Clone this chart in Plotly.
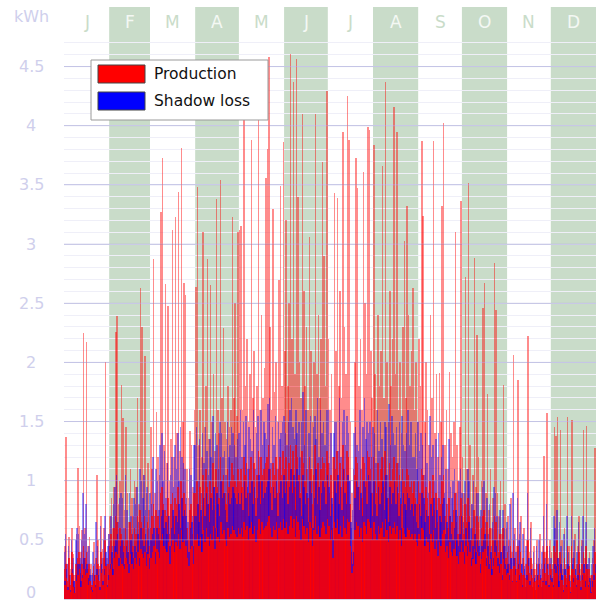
import numpy as np
import plotly.graph_objects as go

# Month letters across the top and the number of days in each month
MONTHS = ["J", "F", "M", "A", "M", "J", "J", "A", "S", "O", "N", "D"]
DAYS_IN_MONTH = [31, 28, 31, 30, 31, 30, 31, 31, 30, 31, 30, 31]
Y_TICKS = [0, 0.5, 1, 1.5, 2, 2.5, 3, 3.5, 4, 4.5]

# Daily production maxima (kWh), one row per month
PROD_PEAK = [
    0.45, 1.37, 0.3, 0.52, 0.25, 0.6, 0.38, 0.2, 0.55, 1.11, 0.62, 0.4, 0.58, 2.25, 0.6, 2.17, 0.45, 0.52, 0.3, 0.22, 0.48, 0.35, 1.05, 0.5, 0.28, 0.7, 0.42, 0.6, 2.0, 0.35, 0.55,
    0.7, 0.85, 0.6, 0.95, 2.26, 2.39, 0.8, 1.0, 1.81, 1.53, 0.75, 1.45, 0.9, 0.65, 1.1, 0.85, 0.7, 1.0, 0.95, 1.7, 0.8, 2.63, 2.3, 1.05, 2.05, 0.9, 1.15, 0.75,
    1.45, 1.1, 2.87, 0.9, 1.58, 1.2, 1.05, 3.27, 3.73, 1.3, 2.66, 1.15, 2.48, 1.0, 1.35, 3.12, 1.2, 3.23, 1.4, 3.44, 1.25, 3.81, 1.5, 2.67, 2.57, 1.1, 0.85, 1.42, 1.3, 0.95, 1.6,
    2.64, 3.48, 1.3, 1.6, 1.2, 3.1, 1.45, 1.8, 2.87, 1.35, 2.65, 1.5, 1.9, 1.25, 3.38, 1.6, 1.4, 3.54, 1.7, 2.29, 1.5, 1.35, 1.8, 1.45, 1.6, 3.23, 1.7, 2.5, 1.55, 3.1,
    3.12, 3.15, 1.6, 4.08, 1.8, 2.2, 1.5, 1.9, 3.88, 1.7, 2.1, 1.45, 1.8, 4.2, 1.6, 2.4, 1.7, 1.95, 3.56, 3.8, 4.58, 2.3, 1.6, 3.3, 1.75, 2.0, 1.5, 2.7, 3.49, 1.8, 3.86,
    2.1, 3.2, 1.8, 2.5, 4.61, 2.2, 4.37, 1.9, 4.56, 3.4, 2.0, 1.7, 4.1, 2.6, 1.8, 2.3, 1.6, 3.06, 2.1, 1.5, 2.0, 4.1, 1.9, 2.4, 1.7, 2.2, 3.69, 2.9, 1.8, 4.29,
    2.2, 1.6, 1.9, 1.2, 3.43, 2.1, 3.39, 1.8, 2.6, 1.7, 3.95, 2.3, 1.9, 4.25, 3.88, 1.5, 0.9, 1.1, 2.0, 3.73, 3.47, 1.8, 2.2, 1.6, 3.61, 2.5, 1.9, 3.99, 3.96, 2.1, 1.7,
    3.84, 1.9, 1.6, 2.4, 1.8, 2.1, 3.66, 1.7, 4.37, 2.0, 1.5, 2.6, 1.8, 2.2, 4.16, 1.9, 3.95, 1.6, 2.0, 1.4, 2.3, 3.03, 1.7, 3.32, 2.4, 1.8, 2.1, 2.63, 1.6, 2.0, 1.5,
    2.2, 1.8, 3.87, 3.24, 1.5, 2.0, 1.6, 1.3, 2.4, 1.7, 3.87, 1.4, 1.9, 1.2, 1.91, 1.5, 3.32, 4.02, 1.3, 1.6, 1.1, 1.92, 1.4, 1.2, 1.5, 3.1, 1.3, 1.0, 1.45, 3.36,
    1.2, 0.9, 2.72, 1.1, 3.52, 1.3, 0.8, 1.05, 2.88, 0.95, 2.23, 1.2, 0.7, 1.0, 2.46, 2.67, 0.9, 1.73, 0.75, 1.1, 0.6, 0.85, 2.84, 2.44, 0.9, 0.7, 1.0, 0.55, 1.81, 0.8, 0.6,
    0.7, 0.5, 0.85, 0.4, 2.06, 0.6, 0.45, 1.85, 0.55, 0.7, 0.35, 0.6, 0.3, 0.5, 2.22, 0.4, 0.65, 0.3, 0.45, 0.25, 0.5, 0.35, 0.55, 0.3, 0.45, 1.21, 0.4, 1.57, 0.35, 0.5,
    0.4, 0.3, 1.45, 1.38, 1.54, 0.35, 1.43, 0.5, 0.25, 0.6, 0.3, 1.54, 0.45, 0.2, 1.51, 0.4, 0.55, 0.3, 0.45, 0.7, 0.25, 0.5, 1.43, 0.35, 1.46, 0.3, 0.4, 0.2, 0.35, 0.5, 1.28,
]

# Typical midday production (kWh)
PROD_BASE = [
    0.25, 0.3, 0.15, 0.35, 0.12, 0.4, 0.2, 0.1, 0.3, 0.35, 0.4, 0.22, 0.3, 0.45, 0.35, 0.4, 0.25, 0.3, 0.15, 0.12, 0.28, 0.2, 0.35, 0.3, 0.15, 0.4, 0.25, 0.35, 0.5, 0.2, 0.3,
    0.45, 0.55, 0.35, 0.6, 0.7, 0.65, 0.5, 0.6, 0.55, 0.5, 0.45, 0.6, 0.5, 0.4, 0.65, 0.55, 0.45, 0.6, 0.55, 0.7, 0.5, 0.75, 0.65, 0.6, 0.7, 0.5, 0.65, 0.45,
    0.6, 0.7, 0.8, 0.5, 0.75, 0.7, 0.6, 0.9, 0.95, 0.8, 0.75, 0.7, 0.85, 0.55, 0.8, 0.9, 0.7, 0.85, 0.8, 0.95, 0.75, 1.0, 0.85, 0.9, 0.8, 0.6, 0.5, 0.75, 0.8, 0.55, 0.9,
    0.9, 1.0, 0.8, 0.95, 0.7, 1.05, 0.85, 1.1, 0.95, 0.8, 1.0, 0.9, 1.15, 0.75, 1.1, 0.95, 0.85, 1.2, 1.0, 1.05, 0.9, 0.8, 1.1, 0.95, 1.0, 1.15, 1.05, 1.0, 0.95, 1.1,
    1.0, 1.1, 0.95, 1.2, 1.05, 1.15, 0.9, 1.1, 1.2, 1.0, 1.15, 0.85, 1.05, 1.25, 1.0, 1.2, 1.05, 1.1, 1.15, 1.2, 1.3, 1.1, 0.95, 1.15, 1.05, 1.2, 0.9, 1.1, 1.2, 1.05, 1.25,
    1.1, 1.2, 1.0, 1.15, 1.3, 1.1, 1.25, 0.95, 1.3, 1.2, 1.05, 0.9, 1.25, 1.15, 1.0, 1.1, 0.85, 1.2, 1.1, 0.8, 1.05, 1.3, 1.0, 1.15, 0.95, 1.1, 1.2, 1.15, 1.0, 1.25,
    1.15, 0.9, 1.05, 0.6, 1.2, 1.1, 1.25, 1.0, 1.15, 0.95, 1.3, 1.1, 1.0, 1.25, 1.2, 0.8, 0.4, 0.5, 1.05, 1.2, 1.15, 0.95, 1.1, 0.85, 1.2, 1.15, 1.0, 1.25, 1.2, 1.1, 0.9,
    1.2, 1.0, 0.9, 1.15, 1.0, 1.1, 1.2, 0.95, 1.25, 1.05, 0.85, 1.15, 1.0, 1.1, 1.2, 1.0, 1.15, 0.9, 1.05, 0.8, 1.1, 1.0, 0.95, 1.1, 1.05, 0.95, 1.0, 0.9, 1.0, 0.85, 0.8,
    1.0, 0.9, 1.1, 1.05, 0.8, 0.95, 0.85, 0.7, 1.0, 0.85, 1.05, 0.75, 0.9, 0.65, 0.85, 0.8, 1.0, 1.05, 0.7, 0.8, 0.6, 0.85, 0.7, 0.65, 0.75, 0.9, 0.65, 0.55, 0.7, 0.85,
    0.7, 0.55, 0.8, 0.65, 0.85, 0.7, 0.5, 0.6, 0.75, 0.55, 0.7, 0.65, 0.4, 0.6, 0.7, 0.75, 0.5, 0.65, 0.45, 0.6, 0.35, 0.5, 0.7, 0.65, 0.5, 0.4, 0.55, 0.3, 0.6, 0.45, 0.35,
    0.4, 0.3, 0.45, 0.25, 0.5, 0.35, 0.25, 0.45, 0.3, 0.4, 0.2, 0.35, 0.18, 0.3, 0.5, 0.22, 0.35, 0.18, 0.25, 0.15, 0.3, 0.2, 0.3, 0.18, 0.25, 0.4, 0.22, 0.45, 0.2, 0.3,
    0.25, 0.18, 0.45, 0.4, 0.5, 0.2, 0.4, 0.3, 0.12, 0.35, 0.18, 0.45, 0.28, 0.1, 0.45, 0.25, 0.35, 0.18, 0.3, 0.4, 0.15, 0.3, 0.4, 0.2, 0.45, 0.18, 0.25, 0.1, 0.2, 0.3, 0.4,
]

# Morning / evening production (kWh)
PROD_LOW = [
    0.12, 0.18, 0.08, 0.2, 0.06, 0.22, 0.1, 0.05, 0.15, 0.2, 0.25, 0.1, 0.18, 0.25, 0.2, 0.22, 0.12, 0.15, 0.08, 0.06, 0.15, 0.1, 0.2, 0.16, 0.08, 0.22, 0.12, 0.2, 0.28, 0.1, 0.16,
    0.25, 0.3, 0.2, 0.35, 0.4, 0.38, 0.28, 0.35, 0.3, 0.28, 0.25, 0.35, 0.3, 0.22, 0.38, 0.3, 0.25, 0.35, 0.3, 0.4, 0.28, 0.42, 0.38, 0.35, 0.4, 0.28, 0.38, 0.25,
    0.35, 0.4, 0.45, 0.3, 0.42, 0.4, 0.35, 0.5, 0.55, 0.45, 0.42, 0.4, 0.48, 0.3, 0.45, 0.5, 0.4, 0.48, 0.45, 0.55, 0.42, 0.58, 0.48, 0.5, 0.45, 0.35, 0.28, 0.42, 0.45, 0.3, 0.5,
    0.5, 0.55, 0.45, 0.52, 0.4, 0.58, 0.48, 0.6, 0.52, 0.45, 0.55, 0.5, 0.62, 0.42, 0.6, 0.52, 0.48, 0.65, 0.55, 0.58, 0.5, 0.45, 0.6, 0.52, 0.55, 0.62, 0.58, 0.55, 0.52, 0.6,
    0.55, 0.6, 0.52, 0.65, 0.58, 0.62, 0.5, 0.6, 0.65, 0.55, 0.62, 0.48, 0.58, 0.68, 0.55, 0.65, 0.58, 0.6, 0.62, 0.65, 0.7, 0.6, 0.52, 0.62, 0.58, 0.65, 0.5, 0.6, 0.65, 0.58, 0.68,
    0.6, 0.65, 0.55, 0.62, 0.7, 0.6, 0.68, 0.52, 0.7, 0.65, 0.58, 0.5, 0.68, 0.62, 0.55, 0.6, 0.48, 0.65, 0.6, 0.45, 0.58, 0.7, 0.55, 0.62, 0.52, 0.6, 0.65, 0.62, 0.55, 0.68,
    0.62, 0.5, 0.58, 0.35, 0.65, 0.6, 0.68, 0.55, 0.62, 0.52, 0.7, 0.6, 0.55, 0.68, 0.65, 0.45, 0.22, 0.28, 0.58, 0.65, 0.62, 0.52, 0.6, 0.48, 0.65, 0.62, 0.55, 0.68, 0.65, 0.6, 0.5,
    0.65, 0.55, 0.5, 0.62, 0.55, 0.6, 0.65, 0.52, 0.68, 0.58, 0.48, 0.62, 0.55, 0.6, 0.65, 0.55, 0.62, 0.5, 0.58, 0.45, 0.6, 0.55, 0.52, 0.6, 0.58, 0.52, 0.55, 0.5, 0.55, 0.48, 0.45,
    0.55, 0.5, 0.6, 0.58, 0.45, 0.52, 0.48, 0.4, 0.55, 0.48, 0.58, 0.42, 0.5, 0.36, 0.48, 0.45, 0.55, 0.58, 0.4, 0.45, 0.35, 0.48, 0.4, 0.36, 0.42, 0.5, 0.36, 0.3, 0.4, 0.48,
    0.4, 0.3, 0.45, 0.36, 0.48, 0.4, 0.28, 0.34, 0.42, 0.3, 0.4, 0.36, 0.22, 0.34, 0.4, 0.42, 0.28, 0.36, 0.25, 0.34, 0.2, 0.28, 0.4, 0.36, 0.28, 0.22, 0.3, 0.16, 0.34, 0.25, 0.2,
    0.22, 0.16, 0.25, 0.14, 0.28, 0.2, 0.14, 0.25, 0.16, 0.22, 0.1, 0.2, 0.1, 0.16, 0.28, 0.12, 0.2, 0.1, 0.14, 0.08, 0.16, 0.1, 0.16, 0.1, 0.14, 0.22, 0.12, 0.25, 0.1, 0.16,
    0.14, 0.1, 0.25, 0.22, 0.28, 0.1, 0.22, 0.16, 0.06, 0.2, 0.1, 0.25, 0.15, 0.05, 0.25, 0.14, 0.2, 0.1, 0.16, 0.22, 0.08, 0.16, 0.22, 0.1, 0.25, 0.1, 0.14, 0.05, 0.1, 0.16, 0.22,
]

# Daily shadow-loss maxima (kWh)
LOSS_PEAK = [
    0.4, 0.55, 0.3, 0.45, 0.2, 0.5, 0.35, 0.15, 0.5, 0.6, 0.55, 0.35, 0.5, 0.9, 0.55, 0.8, 0.4, 0.45, 0.25, 0.2, 0.4, 0.3, 0.65, 0.45, 0.25, 0.62, 0.35, 0.5, 0.7, 0.3, 0.45,
    0.55, 0.7, 0.45, 0.8, 0.95, 1.05, 0.65, 0.85, 0.9, 0.85, 0.6, 1.05, 0.75, 0.5, 0.9, 0.7, 0.55, 0.85, 0.8, 0.95, 0.65, 1.1, 1.0, 0.85, 1.05, 0.75, 0.95, 0.6,
    0.9, 0.8, 1.2, 0.7, 1.1, 1.0, 0.75, 1.3, 1.4, 1.0, 1.25, 0.85, 1.15, 0.7, 1.05, 1.2, 0.95, 1.3, 1.1, 1.4, 1.0, 1.45, 1.2, 1.15, 1.1, 0.85, 0.65, 1.1, 1.05, 0.7, 1.3,
    1.3, 1.45, 1.0, 1.35, 0.9, 1.4, 1.15, 1.45, 1.25, 1.05, 1.35, 1.2, 1.55, 0.95, 1.4, 1.3, 1.1, 1.5, 1.4, 1.2, 1.25, 1.05, 1.5, 1.2, 1.3, 1.45, 1.4, 1.3, 1.2, 1.35,
    1.4, 1.6, 1.2, 1.5, 1.3, 1.55, 1.1, 1.45, 1.35, 1.25, 1.6, 1.1, 1.4, 1.55, 1.2, 1.6, 1.3, 1.5, 1.4, 1.35, 1.65, 1.7, 1.15, 1.45, 1.3, 1.55, 1.1, 1.5, 1.35, 1.4, 1.5,
    1.55, 1.4, 1.3, 1.5, 1.6, 1.7, 1.45, 1.35, 1.6, 1.4, 1.5, 1.2, 1.5, 1.75, 1.3, 1.6, 1.1, 1.4, 1.55, 1.0, 1.45, 1.55, 1.35, 1.7, 1.2, 1.6, 1.4, 1.5, 1.3, 1.6,
    1.6, 1.15, 1.4, 0.8, 1.4, 1.5, 1.5, 1.25, 1.7, 1.2, 1.5, 1.6, 1.3, 1.55, 1.4, 1.0, 0.6, 0.75, 1.4, 1.45, 1.3, 1.25, 1.6, 1.1, 1.45, 1.7, 1.35, 1.5, 1.4, 1.5, 1.2,
    1.45, 1.4, 1.15, 1.6, 1.25, 1.5, 1.35, 1.2, 1.5, 1.45, 1.05, 1.65, 1.3, 1.55, 1.4, 1.3, 1.45, 1.15, 1.5, 1.0, 1.55, 1.3, 1.25, 1.4, 1.6, 1.3, 1.5, 1.2, 1.2, 1.4, 1.1,
    1.5, 1.25, 1.4, 1.3, 1.05, 1.4, 1.15, 0.9, 1.55, 1.2, 1.3, 1.0, 1.35, 0.85, 1.4, 1.05, 1.2, 1.3, 0.9, 1.1, 0.8, 1.35, 0.95, 0.85, 1.0, 1.1, 0.9, 0.7, 1.0, 1.1,
    0.9, 0.65, 1.0, 0.8, 1.1, 1.0, 0.6, 0.8, 1.0, 0.7, 0.9, 0.9, 0.5, 0.75, 0.95, 1.0, 0.65, 0.85, 0.55, 0.8, 0.45, 0.65, 0.95, 0.9, 0.7, 0.5, 0.75, 0.4, 0.75, 0.6, 0.45,
    0.65, 0.45, 0.8, 0.35, 0.9, 0.55, 0.4, 0.85, 0.5, 0.65, 0.3, 0.55, 0.28, 0.45, 0.9, 0.35, 0.6, 0.25, 0.4, 0.2, 0.45, 0.3, 0.5, 0.25, 0.4, 0.7, 0.35, 0.8, 0.3, 0.45,
    0.35, 0.25, 0.7, 0.6, 0.75, 0.3, 0.65, 0.45, 0.2, 0.55, 0.25, 0.7, 0.4, 0.15, 0.7, 0.35, 0.5, 0.25, 0.4, 0.65, 0.2, 0.45, 0.7, 0.3, 0.65, 0.25, 0.35, 0.15, 0.3, 0.45, 0.6,
]

# Typical midday shadow loss (kWh)
LOSS_BASE = [
    0.15, 0.25, 0.1, 0.2, 0.08, 0.25, 0.15, 0.05, 0.2, 0.3, 0.3, 0.15, 0.2, 0.35, 0.25, 0.3, 0.18, 0.2, 0.1, 0.08, 0.2, 0.12, 0.25, 0.2, 0.1, 0.3, 0.15, 0.25, 0.4, 0.12, 0.2,
    0.3, 0.4, 0.25, 0.45, 0.5, 0.55, 0.35, 0.45, 0.5, 0.4, 0.3, 0.45, 0.4, 0.3, 0.5, 0.4, 0.35, 0.45, 0.4, 0.55, 0.35, 0.6, 0.5, 0.45, 0.55, 0.4, 0.5, 0.35,
    0.5, 0.55, 0.6, 0.4, 0.6, 0.55, 0.5, 0.7, 0.75, 0.6, 0.65, 0.55, 0.7, 0.45, 0.6, 0.75, 0.55, 0.7, 0.65, 0.8, 0.6, 0.85, 0.7, 0.75, 0.7, 0.5, 0.4, 0.6, 0.65, 0.45, 0.7,
    0.7, 0.8, 0.65, 0.75, 0.55, 0.85, 0.7, 0.9, 0.8, 0.65, 0.85, 0.75, 0.95, 0.6, 0.9, 0.8, 0.7, 1.0, 0.85, 0.9, 0.75, 0.65, 0.9, 0.8, 0.85, 0.95, 0.9, 0.85, 0.8, 0.9,
    0.8, 0.9, 0.75, 1.0, 0.85, 0.95, 0.7, 0.9, 1.0, 0.8, 0.95, 0.7, 0.85, 1.05, 0.8, 1.0, 0.85, 0.9, 0.95, 1.0, 1.1, 0.9, 0.75, 0.95, 0.85, 1.0, 0.7, 0.9, 1.0, 0.85, 1.05,
    0.9, 1.0, 0.8, 0.95, 1.1, 0.9, 1.05, 0.75, 1.1, 1.0, 0.85, 0.7, 1.05, 0.95, 0.8, 0.9, 0.65, 1.0, 0.9, 0.6, 0.85, 1.1, 0.8, 0.95, 0.75, 0.9, 1.0, 0.95, 0.8, 1.05,
    0.95, 0.7, 0.85, 0.5, 1.0, 0.9, 1.05, 0.8, 0.95, 0.75, 1.1, 0.9, 0.8, 1.05, 1.0, 0.65, 0.3, 0.4, 0.85, 1.0, 0.95, 0.75, 0.9, 0.7, 1.0, 0.95, 0.8, 1.05, 1.0, 0.9, 0.7,
    1.0, 0.8, 0.7, 0.95, 0.8, 0.9, 1.0, 0.75, 1.05, 0.85, 0.65, 0.95, 0.8, 0.9, 1.0, 0.8, 0.95, 0.7, 0.85, 0.6, 0.9, 0.8, 0.75, 0.9, 0.85, 0.75, 0.8, 0.7, 0.8, 0.65, 0.6,
    0.8, 0.7, 0.9, 0.85, 0.65, 0.75, 0.7, 0.55, 0.8, 0.7, 0.85, 0.6, 0.75, 0.5, 0.7, 0.65, 0.8, 0.85, 0.55, 0.65, 0.5, 0.7, 0.55, 0.5, 0.6, 0.75, 0.5, 0.45, 0.55, 0.7,
    0.5, 0.4, 0.6, 0.45, 0.65, 0.5, 0.35, 0.45, 0.55, 0.4, 0.5, 0.45, 0.3, 0.45, 0.5, 0.55, 0.35, 0.45, 0.3, 0.4, 0.25, 0.35, 0.5, 0.45, 0.35, 0.3, 0.4, 0.2, 0.45, 0.3, 0.25,
    0.3, 0.2, 0.35, 0.15, 0.35, 0.25, 0.15, 0.3, 0.2, 0.3, 0.12, 0.25, 0.1, 0.2, 0.35, 0.15, 0.25, 0.1, 0.18, 0.08, 0.2, 0.12, 0.2, 0.1, 0.15, 0.3, 0.15, 0.3, 0.12, 0.2,
    0.18, 0.12, 0.3, 0.28, 0.35, 0.15, 0.3, 0.2, 0.08, 0.25, 0.12, 0.3, 0.2, 0.06, 0.3, 0.18, 0.25, 0.12, 0.2, 0.3, 0.1, 0.2, 0.3, 0.15, 0.3, 0.12, 0.18, 0.06, 0.15, 0.2, 0.3,
]

RED = "#ff0000"
BLUE = "#0000ff"
LAVENDER = "#cfcfec"
BAND = "#c9dcc9"
FONT = "DejaVu Sans"

n_days = sum(DAYS_IN_MONTH)
day = np.arange(n_days)

fig = go.Figure()


def add_bars(values, offset, color, opacity):
    fig.add_trace(go.Bar(
        x=day + offset, y=values, width=0.4,
        marker=dict(color=color, opacity=opacity, line=dict(width=0)),
        showlegend=False, hoverinfo="skip",
    ))


# Overlaid hourly bars: tall daily maxima first, then the denser daytime hours
add_bars(PROD_PEAK, 0.5, RED, 0.45)
add_bars(LOSS_PEAK, 0.05, BLUE, 0.42)
add_bars(PROD_BASE, 0.3, RED, 0.7)
add_bars(LOSS_BASE, 0.8, BLUE, 0.55)
add_bars(PROD_LOW, 0.65, RED, 0.85)

plot_top_px, plot_h_px = 37, 562
shapes = []
annotations = []

# Alternate month bands, extending up into the header strip
edges = np.concatenate([[0], np.cumsum(DAYS_IN_MONTH)])
for i, m in enumerate(MONTHS):
    x0, x1 = edges[i] / n_days, edges[i + 1] / n_days
    shaded = i % 2 == 1
    if shaded:
        shapes.append(dict(type="rect", xref="paper", yref="paper", x0=x0, x1=x1,
                           y0=0, y1=1 + 30 / plot_h_px, fillcolor=BAND,
                           line=dict(width=0), layer="below"))
    annotations.append(dict(text=m, xref="paper", yref="paper", x=(x0 + x1) / 2,
                            y=1 + 15 / plot_h_px, showarrow=False, xanchor="center",
                            yanchor="middle",
                            font=dict(family=FONT, size=17,
                                      color="#f4f8f4" if shaded else BAND)))

# Major gridlines also show faintly across the bars
for v in Y_TICKS[1:]:
    shapes.append(dict(type="line", xref="paper", yref="y", x0=0, x1=1, y0=v, y1=v,
                       line=dict(color="rgba(180,180,225,0.45)", width=1), layer="above"))

# y tick labels, centred in the left margin
for v in Y_TICKS:
    annotations.append(dict(text=f"{v:g}", xref="paper", yref="y", x=-33 / 532, y=v,
                            showarrow=False, xanchor="center", yanchor="middle",
                            yshift=7 if v == 0 else 0,
                            font=dict(family=FONT, size=16, color=LAVENDER)))
annotations.append(dict(text="kWh", xref="paper", yref="paper", x=-33 / 532,
                        y=1 + 20 / plot_h_px, showarrow=False, xanchor="center",
                        yanchor="middle", font=dict(family=FONT, size=16, color=LAVENDER)))


# Legend panel
def px_x(x):
    return (x - 64) / 532


def px_y(y):
    return 1 - (y - plot_top_px) / plot_h_px


shapes.append(dict(type="rect", xref="paper", yref="paper", x0=px_x(91), x1=px_x(268),
                   y0=px_y(120), y1=px_y(60), fillcolor="white",
                   line=dict(color="#9a9a9a", width=1), layer="above"))
for (label, color, y_top, y_bot) in [("Production", RED, 65, 83), ("Shadow loss", BLUE, 92, 110)]:
    shapes.append(dict(type="rect", xref="paper", yref="paper", x0=px_x(98), x1=px_x(145),
                       y0=px_y(y_bot), y1=px_y(y_top), fillcolor=color,
                       line=dict(color="#444444", width=1), layer="above"))
    annotations.append(dict(text=label, xref="paper", yref="paper", x=px_x(152),
                            y=px_y((y_top + y_bot) / 2), showarrow=False, xanchor="left",
                            yanchor="middle", font=dict(family=FONT, size=15.5, color="#111111")))

fig.update_layout(
    width=596, height=604,
    margin=dict(l=64, r=0, t=plot_top_px, b=604 - plot_top_px - plot_h_px),
    paper_bgcolor="white", plot_bgcolor="rgba(0,0,0,0)",
    barmode="overlay", bargap=0,
    shapes=shapes, annotations=annotations,
    xaxis=dict(range=[0, n_days], showticklabels=False, showgrid=False, zeroline=False,
               showline=True, linecolor="#d4d4e4", linewidth=1, fixedrange=True),
    yaxis=dict(range=[0, 4.75], dtick=0.5, showticklabels=False, zeroline=False,
               gridcolor="#d2d2ea", gridwidth=1,
               minor=dict(dtick=0.1, showgrid=True, gridcolor="#efeff8", gridwidth=1),
               fixedrange=True),
)

fig.write_html("out.html")
